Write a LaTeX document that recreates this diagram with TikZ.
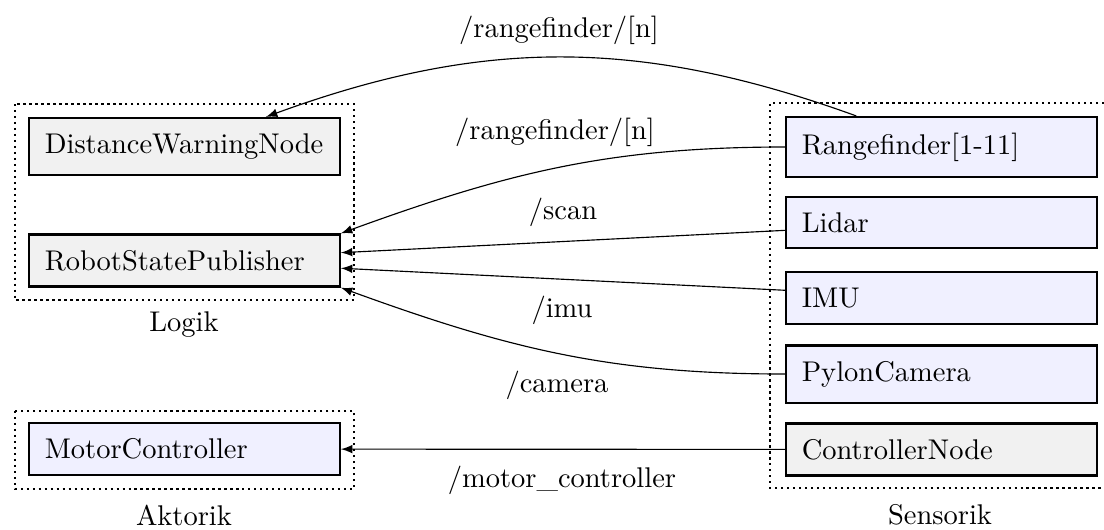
\documentclass[tikz,border=0pt]{standalone}
\usetikzlibrary{arrows}
\definecolor{boxgray}{rgb}{0.945,0.945,0.945}
\definecolor{boxblue}{rgb}{0.94,0.94,1.0}
\tikzset{
  x=0.3509pt, y=-0.3509pt,
  module/.style={draw, thick, text width=98pt, align=left, inner sep=5.5pt, anchor=west},
  logic/.style={module, fill=boxgray},
  device/.style={module, fill=boxblue},
  group/.style={line width=0.8pt, dash pattern=on 0.8pt off 1.3pt},
  topic/.style={inner sep=1pt},
  flow/.style={-latex, thin}
}
\begin{document}
\begin{tikzpicture}
\useasboundingbox (0,0) rectangle (1104,529);

% group frames
\draw[group] (15,104) rectangle (354,300);
\draw[group] (15,411) rectangle (354,489);
\draw[group] (1104,103) -| (770,488) -- (1104,488);

\node (logik)    at (184,325) {Logik};
\node (aktorik)  at (184,515) {Aktorik};
\node (sensorik) at (940,515) {Sensorik};

% logic and actuator modules
\node[logic]  (dwn) at (28,146.5) {DistanceWarningNode};
\node[logic]  (rsp) at (28,260.5) {RobotStatePublisher};
\node[device] (mc)  at (28,449)   {MotorController};

% sensor modules
\node[device] (rf)    at (785,147)   {Rangefinder[1-11]};
\node[device] (lidar) at (785,222.5) {Lidar};
\node[device] (imu)   at (785,298)   {IMU};
\node[device] (cam)   at (785,374)   {PylonCamera};
\node[logic]  (cn)    at (785,449.5) {ControllerNode};

% topics
\draw[flow] (rf) to[bend right=20] (dwn);
\draw[flow] (rf.west) to[out=180,in=20] (rsp.north east);
\draw[flow] (lidar) -- (rsp);
\draw[flow] (imu) -- (rsp);
\draw[flow] (cam.west) to[out=180,in=-20] (rsp.south east);
\draw[flow] (cn) -- (mc);

\node[topic] (t-rf1)   at (559,30)  {$/$rangefinder$/$[n]};
\node[topic] (t-rf2)   at (555,132) {$/$rangefinder$/$[n]};
\node[topic] (t-scan)  at (563,212) {$/$scan};
\node[topic] (t-imu)   at (562,310) {$/$imu};
\node[topic] (t-cam)   at (557,385) {$/$camera};
\node[topic] (t-motor) at (562,480) {$/$motor\_controller};
\end{tikzpicture}
\end{document}
